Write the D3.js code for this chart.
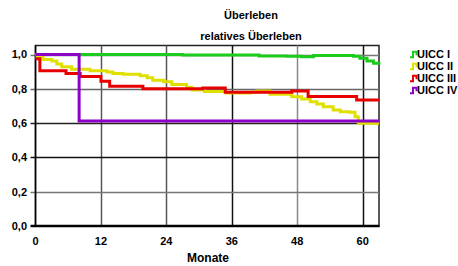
<!DOCTYPE html>
<html>
<head>
<meta charset="utf-8">
<script src="https://cdn.jsdelivr.net/npm/d3@7"></script>
<style>
  body { margin: 0; background: #fff; }
  text { font-family: "Liberation Sans", Arial, sans-serif; font-weight: bold; fill: #000; }
</style>
</head>
<body>
<svg id="chart" width="458" height="266"></svg>
<script>
// step curves: [month, relative survival]
const uicc1 = [[0, 1.0], [27, 0.997], [41, 0.992], [46, 0.99], [48.8, 0.987], [51, 0.995], [58.3, 0.99],
  [59.5, 0.978], [60.8, 0.962], [62, 0.949], [63, 0.94]];
const uicc2 = [[0, 1.0], [0.3, 0.985], [1.4, 0.972], [3.0, 0.962], [3.9, 0.945], [4.8, 0.929], [6.6, 0.915],
  [10, 0.906], [13.1, 0.898], [14.2, 0.89], [16.1, 0.885], [19.2, 0.876], [20.5, 0.865], [21.5, 0.851],
  [23.5, 0.841], [25, 0.826], [27.7, 0.809], [28.7, 0.793], [31, 0.785], [35, 0.776], [39.4, 0.78],
  [40.6, 0.787], [43, 0.768], [47, 0.754], [48.8, 0.741], [50.4, 0.725], [51.6, 0.711], [52.8, 0.696],
  [54.6, 0.676], [55.9, 0.666], [57.5, 0.663], [58.6, 0.637], [59.2, 0.6], [63, 0.6]];
const uicc3 = [[0, 0.975], [0.8, 0.905], [5.6, 0.89], [8.2, 0.872], [12, 0.845], [13.6, 0.815],
  [19.7, 0.8], [30.7, 0.805], [34.8, 0.781], [47, 0.787], [50, 0.755], [58.9, 0.735], [63, 0.735]];
const uicc4 = [[0, 1.0], [8, 0.612], [63, 0.612]];

const seriesNames = ['UICC I', 'UICC II', 'UICC III', 'UICC IV'];
const seriesColors = ['#1ccc1c', '#e0e000', '#e60000', '#8c00c8'];
const seriesData = [uicc1, uicc2, uicc3, uicc4];

const xTicks = [0, 12, 24, 36, 48, 60];
const yTicks = [0, 0.2, 0.4, 0.6, 0.8, 1.0];

const svg = d3.select('#chart');
const plotLeft = 35.5;
const plotRight = 379;
const plotTop = 45.5;
const plotBottom = 226;

const x = d3.scaleLinear().domain([0, 63]).range([plotLeft, plotRight]);
const y = d3.scaleLinear().domain([0, 1.053]).range([plotBottom, plotTop]);

// titles
svg.append('text')
  .attr('x', 251).attr('y', 19)
  .attr('text-anchor', 'middle')
  .style('font-size', '11px')
  .text('Überleben');
svg.append('text')
  .attr('x', 251).attr('y', 40)
  .attr('text-anchor', 'middle')
  .style('font-size', '11px')
  .text('relatives Überleben');

// frame
svg.append('rect')
  .attr('x', plotLeft).attr('y', plotTop)
  .attr('width', plotRight - plotLeft).attr('height', plotBottom - plotTop)
  .attr('fill', 'none')
  .attr('stroke', '#222')
  .attr('stroke-width', 1.5);

// grid
const vShade = ['#555', '#555', '#111', '#888', '#111'];
svg.append('g')
  .selectAll('line')
  .data(xTicks.slice(1))
  .enter()
    .append('line')
    .attr('x1', (d) => Math.round(x(d)) + 0.5)
    .attr('x2', (d) => Math.round(x(d)) + 0.5)
    .attr('y1', plotTop)
    .attr('y2', plotBottom)
    .attr('stroke', (d, i) => vShade[i])
    .attr('stroke-width', 1.5);

const hShade = ['#777', '#111', '#222', '#666', '#777'];
svg.append('g')
  .selectAll('line')
  .data(yTicks.slice(1))
  .enter()
    .append('line')
    .attr('x1', plotLeft - 5)
    .attr('x2', plotRight)
    .attr('y1', (d) => Math.round(y(d)) + 0.5)
    .attr('y2', (d) => Math.round(y(d)) + 0.5)
    .attr('stroke', (d, i) => hShade[i])
    .attr('stroke-width', 1.5);

// axes
svg.append('line')
  .attr('x1', plotLeft).attr('x2', plotLeft)
  .attr('y1', plotTop).attr('y2', plotBottom)
  .attr('stroke', '#000').attr('stroke-width', 1.5);
svg.append('line')
  .attr('x1', plotLeft - 5).attr('x2', plotRight + 0.5)
  .attr('y1', plotBottom).attr('y2', plotBottom)
  .attr('stroke', '#000').attr('stroke-width', 2.5);

const fmt = (v) => d3.format('.1f')(v).replace('.', ',');
svg.append('g')
  .selectAll('text')
  .data(yTicks)
  .enter()
    .append('text')
    .attr('x', 27)
    .attr('y', (d) => y(d))
    .attr('dy', '0.35em')
    .attr('text-anchor', 'end')
    .style('font-size', '11px')
    .text(fmt);

svg.append('g')
  .selectAll('text')
  .data(xTicks)
  .enter()
    .append('text')
    .attr('x', (d) => x(d))
    .attr('y', 241)
    .attr('dy', '0.35em')
    .attr('text-anchor', 'middle')
    .style('font-size', '11px')
    .text((d) => d);

svg.append('text')
  .attr('x', 208).attr('y', 262)
  .attr('text-anchor', 'middle')
  .style('font-size', '12px')
  .text('Monate');

// curves
const line = d3.line()
  .x((d) => x(d[0]))
  .y((d) => y(d[1]))
  .curve(d3.curveStepAfter);

svg.append('g')
  .selectAll('path')
  .data(seriesData)
  .enter()
    .append('path')
    .attr('d', line)
    .attr('fill', 'none')
    .attr('stroke', (d, i) => seriesColors[i])
    .attr('stroke-width', 3);

// legend
const legend = svg.append('g')
  .selectAll('g')
  .data(seriesNames)
  .enter()
    .append('g')
    .attr('transform', (d, i) => `translate(410, ${54.3 + i * 12})`);
legend.append('path')
  .attr('d', 'M0,3H3V-2.5H6.5V1')
  .attr('fill', 'none')
  .attr('stroke', (d, i) => seriesColors[i])
  .attr('stroke-width', 2);
legend.append('text')
  .attr('x', 7)
  .attr('dy', '0.35em')
  .style('font-size', '11px')
  .text((d) => d);
</script>
</body>
</html>
